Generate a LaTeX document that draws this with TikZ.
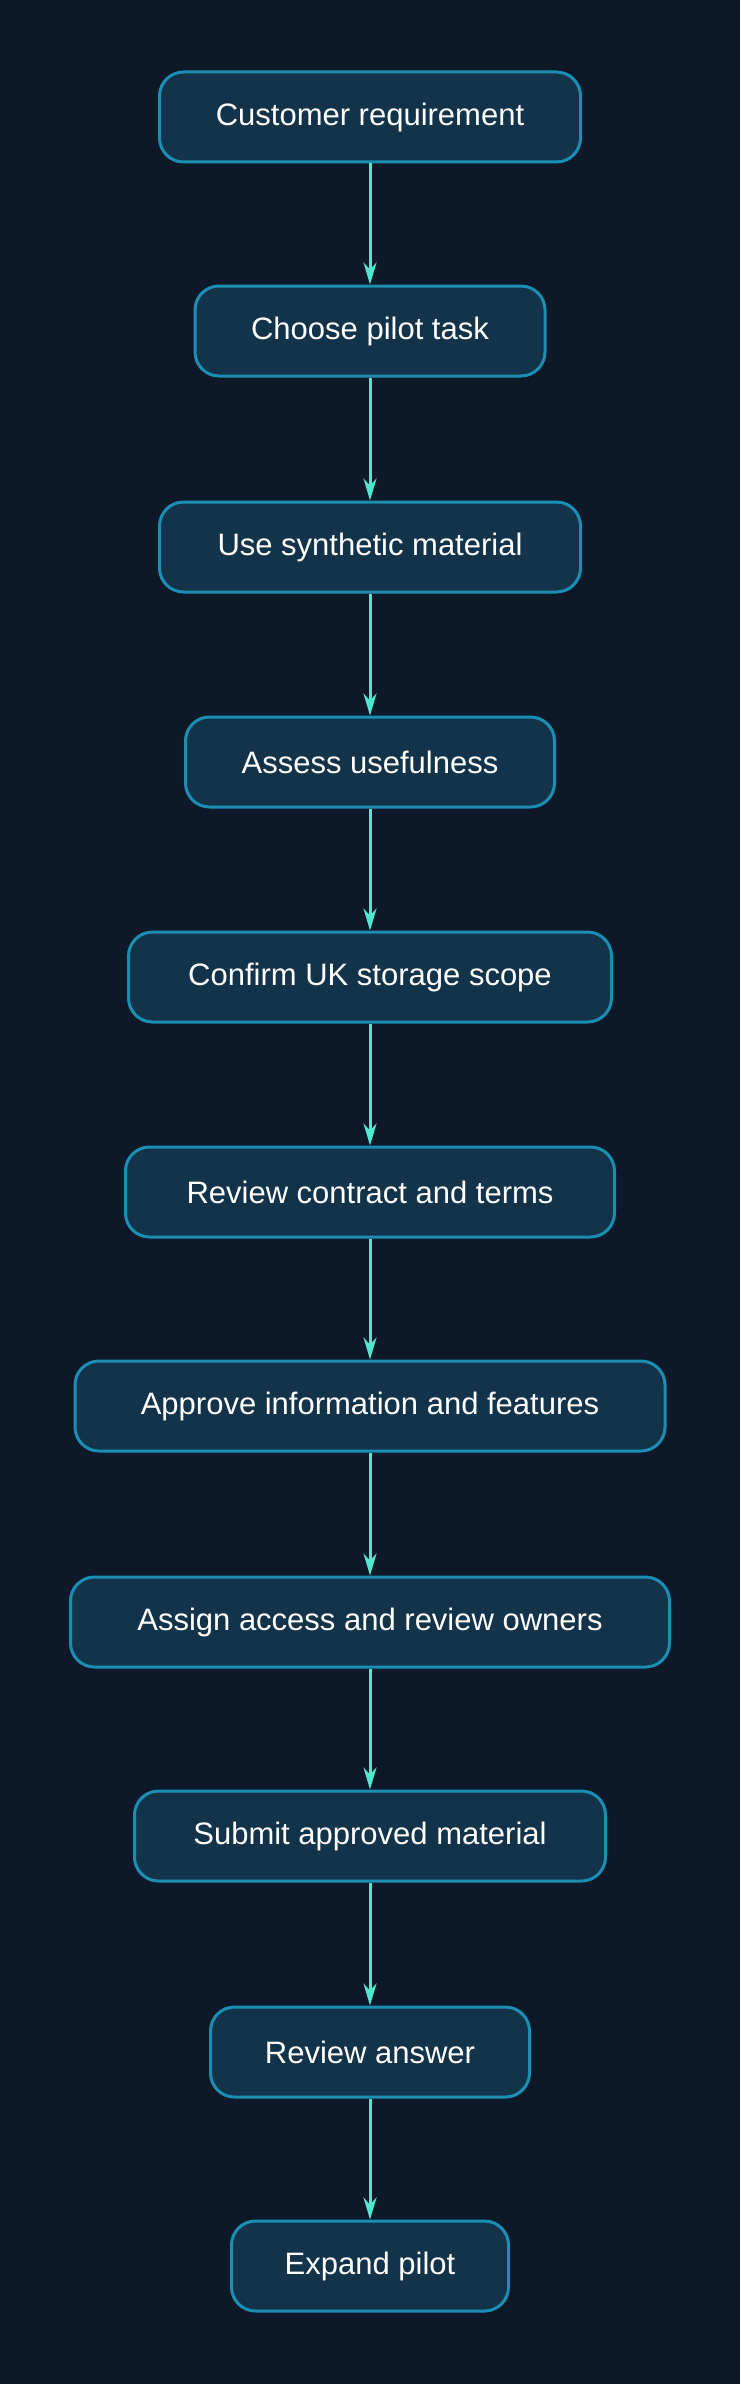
\documentclass[tikz,border=0pt]{standalone}
\usepackage{fontspec}
\setmainfont{Liberation Sans}
\usetikzlibrary{arrows.meta}
\definecolor{bg}{HTML}{0D1829}
\definecolor{nf}{HTML}{12334A}
\definecolor{nb}{HTML}{1B8FB3}
\definecolor{ar}{HTML}{4FE8CF}
\begin{document}
\begin{tikzpicture}[x=1pt,y=-1pt,
  box/.style={draw=nb,fill=nf,line width=3pt,rounded corners=24pt,minimum height=90pt,text=white,font=\fontsize{31}{37}\selectfont,inner sep=0pt},
  arr/.style={draw=ar,line width=3pt,-{Stealth[length=22pt,width=13pt]}}]
\fill[bg] (0,0) rectangle (740,2384);
\useasboundingbox (0,0) rectangle (740,2384);
\node[box,minimum width=421pt] (n1) at (370,117) {Customer requirement};
\node[box,minimum width=350pt] (n2) at (370,331) {Choose pilot task};
\node[box,minimum width=421pt] (n3) at (370,547) {Use synthetic material};
\node[box,minimum width=369pt] (n4) at (370,762) {Assess usefulness};
\node[box,minimum width=483pt] (n5) at (370,977) {Confirm UK storage scope};
\node[box,minimum width=489pt] (n6) at (370,1192) {Review contract and terms};
\node[box,minimum width=590pt] (n7) at (370,1406) {Approve information and features};
\node[box,minimum width=599pt] (n8) at (370,1622) {Assign access and review owners};
\node[box,minimum width=471pt] (n9) at (370,1836) {Submit approved material};
\node[box,minimum width=319pt] (n10) at (370,2052) {Review answer};
\node[box,minimum width=277pt] (n11) at (370,2266) {Expand pilot};
\foreach \a/\b in {n1/n2,n2/n3,n3/n4,n4/n5,n5/n6,n6/n7,n7/n8,n8/n9,n9/n10,n10/n11}
  \draw[arr] (\a) -- (\b);
\end{tikzpicture}
\end{document}
